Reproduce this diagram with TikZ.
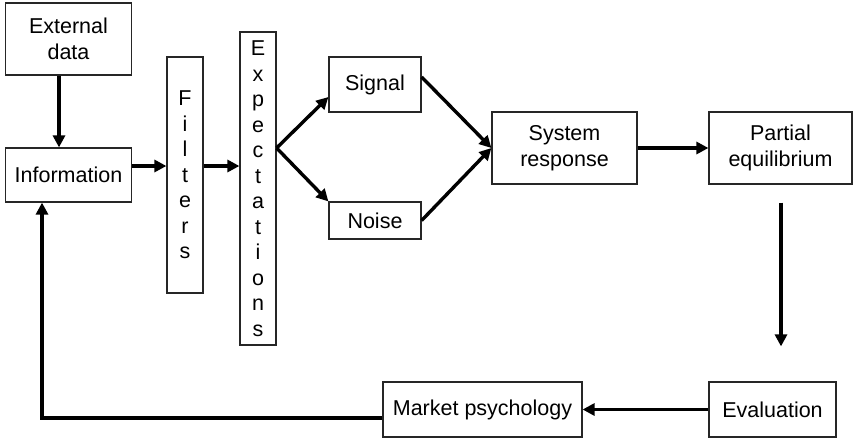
\documentclass[tikz,border=0pt]{standalone}
\usepackage{fontspec}
\setmainfont{Liberation Sans}
\usetikzlibrary{arrows.meta}
\begin{document}
\begin{tikzpicture}[x=1pt,y=-1pt,
  box/.style={draw=black!85, line width=1.2pt, inner sep=0pt, align=center,
    font=\fontsize{21.5}{25.5}\selectfont},
  arr/.style={line width=3.4pt, -{Triangle[length=12pt,width=12pt]}}]
\useasboundingbox (0,0) rectangle (853,439);
\node[box, minimum width=126pt, minimum height=72pt] (ext) at (68.5,39) {External\\data};
\node[box, minimum width=126pt, minimum height=54pt] (info) at (68.5,175) {Information};
\node[box, minimum width=36pt, minimum height=236pt] (filt) at (185,175) {F\\i\\l\\t\\e\\r\\s};
\node[box, minimum width=36pt, minimum height=313pt] (expc) at (258,188.5) {E\\x\\p\\e\\c\\t\\a\\t\\i\\o\\n\\s};
\node[box, minimum width=92pt, minimum height=55pt] (sig) at (375,84.5) {Signal};
\node[box, minimum width=92pt, minimum height=37pt] (noise) at (375,220.5) {Noise};
\node[box, minimum width=145pt, minimum height=72pt] (sys) at (564.5,148) {System\\response};
\node[box, minimum width=143pt, minimum height=72pt] (part) at (780.5,148) {Partial\\equilibrium};
\node[box, minimum width=127pt, minimum height=55pt] (eval) at (772.5,409.5) {Evaluation};
\node[box, minimum width=199pt, minimum height=55pt] (mkt) at (482.5,409.5) {Market psychology};

\draw[arr] ([xshift=-9.5pt]ext.south) -- ([xshift=-9.5pt]info.north);
\draw[arr] ([yshift=9pt]info.east) -- ([yshift=9pt]filt.west);
\draw[arr] ([yshift=9pt]filt.east) -- ([yshift=9pt]filt.east -| expc.west);
\coordinate (split) at ([yshift=40.5pt]expc.east);
\draw[arr] (split) -- ([yshift=-12.5pt]sig.west);
\draw[arr] (split) -- (noise.north west);
\draw[arr] ([yshift=7.5pt]sig.east) -- (sys.west);
\draw[arr] (noise.east) -- (sys.west);
\draw[arr] (sys.east) -- (part.west);
\draw[arr] ([xshift=0.5pt,yshift=-18pt]part.south) -- ([xshift=8.5pt,yshift=35pt]eval.north);
\draw[arr] (eval.west) -- (mkt.east);
\draw[arr] ([yshift=-8.5pt]mkt.west) -| ([xshift=-26.5pt]info.south);
\end{tikzpicture}
\end{document}
